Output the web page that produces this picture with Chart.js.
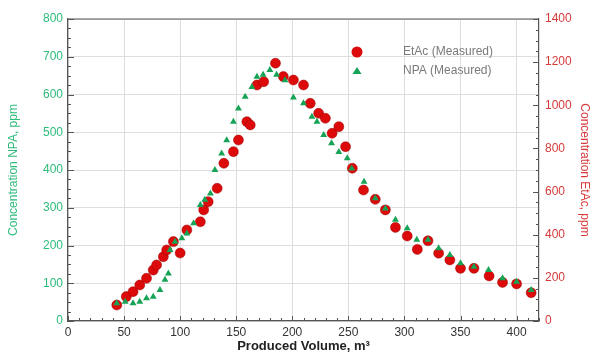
<!DOCTYPE html>
<html>
<head>
<meta charset="utf-8">
<script src="https://cdn.jsdelivr.net/npm/chart.js@4/dist/chart.umd.min.js"></script>
<style>
  html, body { margin: 0; padding: 0; background: #fff; }
  #wrap { width: 592px; height: 354px; }
</style>
</head>
<body>
<div id="wrap"><canvas id="chart" width="592" height="354"></canvas></div>
<script>
// EtAc (measured), right axis, ppm
const etacVolume = [43.5, 52, 58, 64, 70, 76, 79, 85, 88, 94, 100, 106, 118, 121, 125, 133,
  139, 147.5, 152, 159.5, 162.5, 168.5, 174.5, 185, 192, 201, 210, 216, 223.5, 229.5, 235.5,
  241.5, 247.5, 253.5, 263.5, 274, 283, 292, 302.5, 311.5, 321, 330.5, 340.5, 350, 362,
  375.5, 387.5, 400, 413];
const etacConc = [74, 113, 136, 167, 198, 236, 260, 298, 329, 368, 315, 422, 460, 515, 553, 615,
  731, 785, 839, 924, 909, 1094, 1109, 1195, 1133, 1117, 1094, 1009, 963, 940, 870,
  901, 808, 708, 607, 564, 515, 434, 394, 332, 372, 314, 283, 244, 244,
  209, 179, 172, 131];

// NPA (measured), left axis, ppm
const npaVolume = [43.5, 51, 58, 64, 70, 76, 82, 86.5, 89.5, 91, 95.5, 101.5, 106, 112, 118,
  122, 127, 131, 137, 141.5, 147.5, 152, 158, 164, 168.5, 174, 180, 186, 193.5, 201,
  210, 217.5, 222, 228, 235, 241.5, 249, 253, 264, 274, 283, 292, 302.5, 311, 321,
  330.5, 340.5, 350, 362, 375, 387.5, 400, 413];
const npaConc = [47, 51, 47, 51, 60, 64, 82, 109, 126, 188, 210, 219, 232, 259, 307,
  321, 338, 400, 444, 479, 528, 563, 594, 620, 647, 652, 665, 652, 638, 592,
  577, 541, 528, 493, 471, 448, 431, 404, 369, 325, 298, 268, 246, 215, 215,
  193, 175, 153, 144, 135, 113, 104, 82];

const xTicks = [0, 50, 100, 150, 200, 250, 300, 350, 400];

const RED = "#dc0a0a";
const GREEN = "#17a355";
const FONT = "'Liberation Sans', Arial, sans-serif";

function toPoints(xs, ys) {
  return xs.map((x, i) => ({ x: x, y: ys[i] }));
}

// frame top, small inward minor ticks + legend inside the plot
const extras = {
  id: "extras",
  afterDraw(chart) {
    const c = chart.ctx;
    const a = chart.chartArea;
    const sx = chart.scales.x, sy = chart.scales.y, sy1 = chart.scales.y1;
    c.save();
    c.strokeStyle = "#555";
    c.lineWidth = 1.2;
    c.beginPath();
    c.moveTo(a.left, a.top); c.lineTo(a.right, a.top);
    c.stroke();
    c.lineWidth = 1;
    c.beginPath();
    for (let v = 0; v <= 420; v += 10) {
      const px = Math.round(sx.getPixelForValue(v)) + 0.5;
      const len = v % 50 === 0 ? 5 : 3;
      c.moveTo(px, a.bottom); c.lineTo(px, a.bottom - len);
    }
    for (let v = 0; v <= 800; v += 25) {
      const py = Math.round(sy.getPixelForValue(v)) + 0.5;
      const len = v % 100 === 0 ? 6 : 3;
      c.moveTo(a.left, py); c.lineTo(a.left + len, py);
    }
    for (let v = 0; v <= 1400; v += 50) {
      const py = Math.round(sy1.getPixelForValue(v)) + 0.5;
      const len = v % 200 === 0 ? 6 : 3;
      c.moveTo(a.right, py); c.lineTo(a.right - len, py);
    }
    c.stroke();

    // legend
    const lx = 357, ly = 52;
    c.fillStyle = RED;
    c.beginPath(); c.arc(lx, ly, 5.5, 0, Math.PI * 2); c.fill();
    c.fillStyle = GREEN;
    c.beginPath();
    c.moveTo(lx, ly + 15); c.lineTo(lx + 4.5, ly + 22); c.lineTo(lx - 4.5, ly + 22); c.closePath();
    c.fill();
    c.fillStyle = "#7a7a7a";
    c.font = "12px " + FONT;
    c.textBaseline = "middle";
    c.textAlign = "left";
    c.fillText(chart.data.datasets[0].label, 403, ly);
    c.fillText(chart.data.datasets[1].label, 403, ly + 19);
    c.restore();
  }
};

new Chart(document.getElementById("chart"), {
  type: "scatter",
  data: {
    datasets: [
      {
        label: "EtAc (Measured)",
        data: toPoints(etacVolume, etacConc),
        yAxisID: "y1",
        pointStyle: "circle",
        pointRadius: 5,
        backgroundColor: RED,
        borderColor: "rgba(150,0,0,0.6)",
        borderWidth: 0.8,
        order: 2
      },
      {
        label: "NPA (Measured)",
        data: toPoints(npaVolume, npaConc),
        yAxisID: "y",
        pointStyle: "triangle",
        pointRadius: 4,
        backgroundColor: GREEN,
        borderColor: GREEN,
        borderWidth: 0,
        order: 1
      }
    ]
  },
  options: {
    responsive: false,
    animation: false,
    layout: { padding: { top: 19, left: 0, right: 0, bottom: 0 } },
    plugins: { legend: { display: false }, tooltip: { enabled: false } },
    scales: {
      x: {
        type: "linear",
        min: 0, max: 420,
        afterBuildTicks: s => { s.ticks = xTicks.map(v => ({ value: v })); },
        afterFit: s => { s.height = 33; },
        grid: { color: "#dedede", drawTicks: false },
        border: { color: "#555", width: 1.2 },
        ticks: { color: "#333", font: { family: FONT, size: 12 }, padding: 4, maxRotation: 0,
          callback: v => String(v) },
        title: {
          display: true, text: "Produced Volume, m³", color: "#222",
          font: { family: FONT, size: 13, weight: "bold" }, padding: { top: -1, bottom: 0 }
        }
      },
      y: {
        position: "left",
        min: 0, max: 800,
        afterFit: s => { s.width = 68; },
        grid: { color: "#dedede", drawTicks: false },
        border: { color: "#555", width: 1.2 },
        ticks: { stepSize: 100, color: "#2dbb7a", font: { family: FONT, size: 12 }, padding: 5,
          callback: v => String(v) },
        title: {
          display: true, text: "Concentration NPA, ppm", color: "#2dbb7a",
          font: { family: FONT, size: 12 }, padding: { top: 6, bottom: 2 }
        }
      },
      y1: {
        position: "right",
        min: 0, max: 1400,
        afterFit: s => { s.width = 53; },
        grid: { drawOnChartArea: false, drawTicks: false },
        border: { color: "#555", width: 1.2 },
        ticks: { stepSize: 200, color: "#d63a3a", font: { family: FONT, size: 12 }, padding: 6,
          callback: v => String(v) },
        title: {
          display: true, text: "Concentration EtAc, ppm", color: "#d63a3a",
          font: { family: FONT, size: 12 }, padding: { top: 0, bottom: 0 }
        }
      }
    }
  },
  plugins: [extras]
});
</script>
</body>
</html>
